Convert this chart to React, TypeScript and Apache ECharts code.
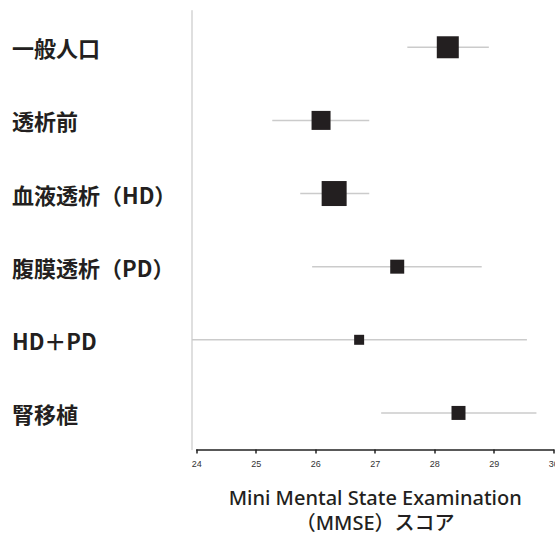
import React, { useEffect, useRef } from "react";
import * as echarts from "echarts";

const categories = ["一般人口", "透析前", "血液透析（HD）", "腹膜透析（PD）", "HD＋PD", "腎移植"];
const means = [28.22, 26.09, 26.31, 27.37, 26.73, 28.4];
const lower = [27.54, 25.27, 25.74, 25.94, 23.92, 27.1];
const upper = [28.91, 26.9, 26.9, 28.79, 29.55, 29.71];
const weights = [22, 19, 25, 14, 10, 14];
const xTicks = [24, 25, 26, 27, 28, 29, 30];
const axisTitle = "Mini Mental State Examination\n（MMSE）スコア";

export default function App() {
  const ref = useRef<HTMLDivElement>(null);
  useEffect(() => {
    if (!ref.current) return;
    const chart = echarts.init(ref.current, null, { renderer: "svg" });
    chart.setOption({
      animation: false,
      backgroundColor: "#ffffff",
      grid: { left: 196.7, right: 1.3, top: 10.7, bottom: 86.5, outerBoundsMode: "none", containLabel: false },
      xAxis: {
        type: "value",
        min: xTicks[0],
        max: xTicks[xTicks.length - 1],
        interval: 1,
        splitLine: { show: false },
        axisLine: { show: true, lineStyle: { color: "#222", width: 1.5 } },
        axisTick: { show: true, length: 4, lineStyle: { color: "#222", width: 1.5 } },
        axisLabel: { fontSize: 9, color: "#333", margin: 10, fontFamily: "Liberation Sans" },
        name: axisTitle,
        nameLocation: "middle",
        nameGap: 35,
        nameTextStyle: {
          fontSize: 20,
          lineHeight: 25,
          color: "#231f20",
          fontFamily: "Noto Sans, Noto Sans CJK JP",
          fontWeight: 500,
        },
      },
      yAxis: {
        type: "category",
        data: categories,
        inverse: true,
        offset: 5,
        axisLine: { show: true, lineStyle: { color: "#d4d4d4", width: 1.5 } },
        axisTick: { show: false },
        splitLine: { show: false },
        axisLabel: {
          align: "left",
          margin: 179.7,
          fontSize: 22,
          fontWeight: "bold",
          color: "#231f20",
          fontFamily: "Noto Sans CJK JP",
        },
      },
      series: [
        {
          type: "custom",
          clip: false,
          z: 1,
          data: categories.map((_, i) => [i, lower[i], upper[i]]),
          encode: { x: [1, 2], y: 0 },
          renderItem: (params: any, api: any) => {
            const idx = api.value(0);
            const p1 = api.coord([api.value(1), idx]);
            const p2 = api.coord([api.value(2), idx]);
            return {
              type: "line",
              shape: { x1: p1[0], y1: p1[1], x2: p2[0], y2: p2[1] },
              style: { stroke: "#cbcbcb", lineWidth: 1.5 },
            };
          },
        },
        {
          type: "scatter",
          z: 5,
          symbol: "rect",
          data: means.map((m, i) => ({ value: [m, i], symbolSize: weights[i] })),
          itemStyle: { color: "#231f20", opacity: 1 },
        },
      ],
    });
    return () => chart.dispose();
  }, []);
  return (
    <div
      ref={ref}
      style={{ position: "fixed", left: 0, top: 0, width: 555, height: 536 }}
    />
  );
}
